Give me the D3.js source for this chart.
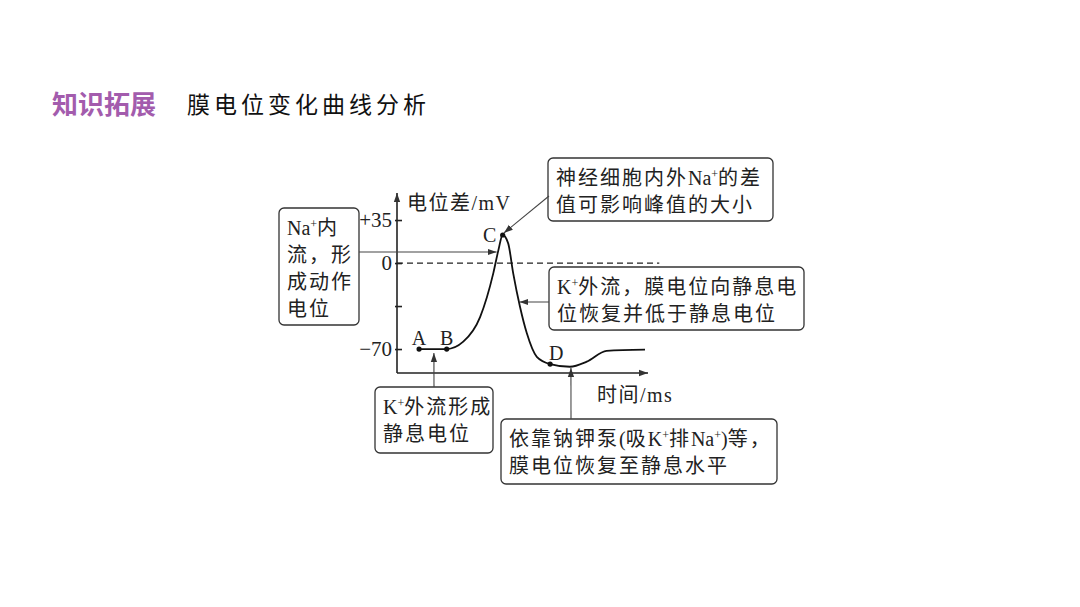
<!DOCTYPE html>
<html>
<head>
<meta charset="utf-8">
<script src="https://cdn.jsdelivr.net/npm/d3@7"></script>
<style>
  body { margin: 0; background: #fff; }
  text { font-family: "Liberation Serif", "Noto Sans CJK SC", serif; fill: #222; }
</style>
</head>
<body>
<script>
// curve data: time (ms, arbitrary units) and membrane potential (mV)
var times = [0.88, 1.98, 2.64, 3.31, 3.84, 4.04, 4.21, 4.43, 4.63, 4.90, 5.17, 5.57, 6.10, 6.89, 7.56, 8.35, 9.88];
var mv    = [-70, -70, -64, -44, -8, 10.5, 22.8, 16, -8.4, -35.6, -57, -76.3, -82.2, -84.4, -80.3, -71.5, -70.5];

// labelled points on the curve (index into the arrays above)
var pointNames = ["A", "B", "C", "D"];
var pointIndex = [0, 1, 6, 12];

// y axis ticks
var tickValues = [35, 0, -35, -70];
var tickLabels = ["+35", "0", "", "\u221270"];

// annotations: text lines ("^+" = superscript plus), arrow tip in data coords
var notes = [
  { lines: ["Na^+内", "流，形", "成动作", "电位"], box: [279, 208, 80, 117], from: [359, 252], tip: [3.97, 9] },
  { lines: ["神经细胞内外Na^+的差", "值可影响峰值的大小"], box: [548, 158, 225, 63], from: [549, 196], tip: [4.26, 24.5] },
  { lines: ["K^+外流，膜电位向静息电", "位恢复并低于静息电位"], box: [549, 267, 255, 63], from: [549, 302], tip: [4.88, -31.7] },
  { lines: ["K^+外流形成", "静息电位"], box: [375, 387, 118, 66], from: [434, 387], tip: [1.47, -73.3] },
  { lines: ["依靠钠钾泵(吸K^+排Na^+)等，", "膜电位恢复至静息水平"], box: [501, 419, 276, 65], from: [571, 419], tip: [6.93, -85.5] }
];

var W = 1080, H = 607;
var svg = d3.select("body").append("svg").attr("width", W).attr("height", H);

var defs = svg.append("defs");
defs.append("marker").attr("id", "arr")
  .attr("viewBox", "0 0 10 10").attr("refX", 10).attr("refY", 5)
  .attr("markerWidth", 9).attr("markerHeight", 9).attr("markerUnits", "userSpaceOnUse")
  .attr("orient", "auto")
  .append("path").attr("d", "M0,1.5 L10,5 L0,8.5 Z").attr("fill", "#333");

// header
svg.append("text").attr("x", 52).attr("y", 114)
  .style("font-family", "'Noto Sans CJK SC'").style("font-weight", 700)
  .style("font-size", "26px").style("fill", "#a35cad")
  .text("知识拓展");
svg.append("text").attr("x", 187).attr("y", 113)
  .style("font-family", "'Noto Sans CJK SC'").style("font-weight", 400)
  .style("font-size", "23px").style("letter-spacing", "4px").style("fill", "#111")
  .text("膜电位变化曲线分析");

// scales
var x = d3.scaleLinear().domain([0, 10]).range([397, 648]);
var y = d3.scaleLinear().domain([-89.5, 57]).range([373, 193]);

// axes lines with arrows
svg.append("line").attr("x1", x(0)).attr("y1", y(-89.5)).attr("x2", x(0)).attr("y2", y(57))
  .attr("stroke", "#222").attr("stroke-width", 1.6).attr("marker-end", "url(#arr)");
svg.append("line").attr("x1", x(0)).attr("y1", y(-89.5)).attr("x2", x(10)).attr("y2", y(-89.5))
  .attr("stroke", "#222").attr("stroke-width", 1.6).attr("marker-end", "url(#arr)");

var yAxis = d3.axisLeft(y).tickValues(tickValues).tickSize(-5).tickPadding(5)
  .tickFormat(function(d, i) { return tickLabels[i]; });
var gy = svg.append("g").attr("transform", "translate(" + x(0) + ",0)").call(yAxis);
gy.select(".domain").remove();
gy.selectAll(".tick line").attr("x1", -2).attr("stroke", "#222").attr("stroke-width", 1.6);
gy.selectAll(".tick text").style("font-size", "21px").attr("fill", "#222")
  .style("font-family", "'Liberation Serif', serif");

// axis titles
svg.append("text").attr("x", 407).attr("y", 210)
  .style("font-size", "20px").style("letter-spacing", "1.5px").text("电位差/mV");
svg.append("text").attr("x", 597).attr("y", 402)
  .style("font-size", "20px").style("letter-spacing", "1.5px").text("时间/ms");

// zero dashed line
svg.append("line").attr("x1", x(0)).attr("y1", y(0)).attr("x2", x(10.45)).attr("y2", y(0))
  .attr("stroke", "#222").attr("stroke-width", 1.3).attr("stroke-dasharray", "6,4");

// membrane potential curve
var pts = times.map(function(t, i) { return [t, mv[i]]; });
var line = d3.line().x(function(d) { return x(d[0]); }).y(function(d) { return y(d[1]); })
  .curve(d3.curveMonotoneX);
svg.append("path").datum(pts).attr("d", line)
  .attr("fill", "none").attr("stroke", "#111").attr("stroke-width", 1.8);

// labelled points
var labelOff = { A: [0, -4], B: [0, -4], C: [-13, 7], D: [6, -4] };
pointIndex.forEach(function(k, i) {
  var px = x(times[k]), py = y(mv[k]);
  svg.append("circle").attr("cx", px).attr("cy", py).attr("r", 2.6).attr("fill", "#111");
  var o = labelOff[pointNames[i]];
  svg.append("text").attr("x", px + o[0]).attr("y", py + o[1])
    .attr("text-anchor", "middle").style("font-size", "20px").text(pointNames[i]);
});

// rich text helper: "^+" becomes a small raised plus, CJK runs get letter spacing
function richText(sel, str) {
  var parts = str.split(/(\^\+|[A-Za-z()]+)/);
  var raised = false;
  parts.forEach(function(p) {
    if (p === "") return;
    if (p === "^+") {
      sel.append("tspan").attr("dy", -7).style("font-size", "12px")
        .style("letter-spacing", "0px").text("+");
      raised = true;
    } else {
      var latin = /^[A-Za-z()]+$/.test(p);
      sel.append("tspan").attr("dy", raised ? 7 : 0)
        .style("letter-spacing", latin ? "0px" : "2px").text(p);
      raised = false;
    }
  });
}

// annotation boxes and arrows
notes.forEach(function(n) {
  var b = n.box;
  svg.append("rect").attr("x", b[0]).attr("y", b[1]).attr("width", b[2]).attr("height", b[3])
    .attr("rx", 5).attr("fill", "#fff").attr("stroke", "#333").attr("stroke-width", 1.3);
  n.lines.forEach(function(l, i) {
    var t = svg.append("text").attr("x", b[0] + 8).attr("y", b[1] + 27 + i * 27)
      .style("font-size", "20px");
    richText(t, l);
  });
  svg.append("line").attr("x1", n.from[0]).attr("y1", n.from[1])
    .attr("x2", x(n.tip[0])).attr("y2", y(n.tip[1]))
    .attr("stroke", "#444").attr("stroke-width", 1.1).attr("marker-end", "url(#arr)");
});
</script>
</body>
</html>
